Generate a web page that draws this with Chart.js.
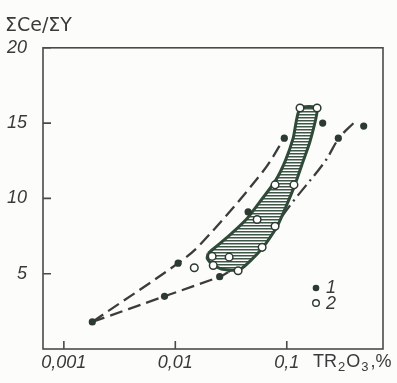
<!DOCTYPE html>
<html>
<head>
<meta charset="utf-8">
<script src="https://cdn.jsdelivr.net/npm/chart.js@4"></script>
<style>
  html, body { margin: 0; padding: 0; background: #fcfcfa; }
  canvas { display: block; }
</style>
</head>
<body>
<canvas id="chart" width="397" height="383"></canvas>
<script>
//Data
const xTicks = [0.001, 0.01, 0.1];
const yTicks = [5, 10, 15, 20];

//series 1 (filled dots)
const s1X = [0.0018, 0.008, 0.0106, 0.025, 0.045, 0.095, 0.21, 0.29, 0.49];
const s1Y = [1.8, 3.5, 5.7, 4.8, 9.1, 14.0, 15.0, 14.0, 14.8];

//series 2 (open circles)
const s2X = [0.0148, 0.0214, 0.0219, 0.0304, 0.0366, 0.0542, 0.0601, 0.0785, 0.0785, 0.116, 0.1315, 0.187];
const s2Y = [5.4, 6.15, 5.55, 6.1, 5.2, 8.6, 6.75, 10.9, 8.15, 10.9, 16.0, 16.0];

//upper dashed curve
const upX = [0.0018, 0.0106, 0.0168, 0.0613, 0.095];
const upY = [1.8, 5.7, 6.95, 11.8, 14.0];

//lower dashed curve
const lowX = [0.0018, 0.008, 0.025, 0.0298];
const lowY = [1.8, 3.5, 4.8, 5.1];

//dash-dot continuation
const ddX = [0.0298, 0.052, 0.114, 0.22, 0.294, 0.409];
const ddY = [5.1, 6.5, 9.8, 12.45, 14.0, 15.1];

//hatched band outline (closed)
const bandX = [0.0197, 0.0311, 0.0441, 0.0577, 0.0785, 0.0966, 0.1139, 0.1315, 0.187, 0.1617, 0.140, 0.1187, 0.0986, 0.0819, 0.0601, 0.0382, 0.0264, 0.0214, 0.0193, 0.0197];
const bandY = [6.35, 7.6, 8.67, 9.8, 11.13, 12.46, 13.98, 16.0, 16.0, 13.78, 12.46, 10.93, 9.47, 8.14, 6.68, 5.29, 5.29, 5.62, 6.02, 6.35];

const ink = "#2c3a31";
const green = "#2f4a38";
const textColor = "#3a3a3a";
const tickFont = { family: "Liberation Sans", style: "italic", size: 18 };

const toPoints = (xs, ys) => xs.map((x, i) => ({ x: x, y: ys[i] }));

//Hatch pattern for the band
let pc = document.createElement("canvas");
pc.width = 8;
pc.height = 3;
let pctx = pc.getContext("2d");
pctx.fillStyle = "#ffffff";
pctx.fillRect(0, 0, 8, 3);
pctx.fillStyle = "#3d5645";
pctx.fillRect(0, 0, 8, 1.5);

let canvas = document.getElementById("chart");
let context = canvas.getContext("2d");
let hatch = context.createPattern(pc, "repeat");

//Frame, inner ticks, axis unit and legend
const decor = {
  id: "decor",
  beforeDatasetsDraw(chart) {
    const ctx = chart.ctx;
    const a = chart.chartArea;
    const xs = chart.scales.x;
    const ys = chart.scales.y;
    ctx.save();
    ctx.strokeStyle = "#4a4a4a";
    ctx.lineWidth = 1.6;
    ctx.strokeRect(a.left, a.top, a.right - a.left, a.bottom - a.top);
    ctx.beginPath();
    xTicks.forEach((v) => {
      const px = xs.getPixelForValue(v);
      ctx.moveTo(px, a.bottom);
      ctx.lineTo(px, a.bottom - 8);
    });
    yTicks.forEach((v) => {
      const py = ys.getPixelForValue(v);
      ctx.moveTo(a.left, py);
      ctx.lineTo(a.left + 8, py);
    });
    ctx.stroke();
    ctx.restore();
  },
  afterDraw(chart) {
    const ctx = chart.ctx;
    const a = chart.chartArea;
    ctx.save();
    ctx.fillStyle = textColor;
    ctx.textBaseline = "middle";
    //unit label after the last tick
    let x = 313;
    const y = 362;
    ctx.font = '18px "Liberation Sans"';
    ctx.fillText("TR", x, y);
    x += ctx.measureText("TR").width + 1;
    ctx.font = '13px "Liberation Sans"';
    ctx.fillText("2", x, y + 5);
    x += ctx.measureText("2").width + 1;
    ctx.font = '18px "Liberation Sans"';
    ctx.fillText("O", x, y);
    x += ctx.measureText("O").width + 1;
    ctx.font = '13px "Liberation Sans"';
    ctx.fillText("3", x, y + 5);
    x += ctx.measureText("3").width + 1;
    ctx.font = '18px "Liberation Sans"';
    ctx.fillText(",%", x + 1, y);

    //legend
    const lx = a.right - 67;
    ctx.fillStyle = ink;
    ctx.beginPath();
    ctx.arc(lx, 288, 3.3, 0, Math.PI * 2);
    ctx.fill();
    ctx.beginPath();
    ctx.arc(lx, 303, 3.3, 0, Math.PI * 2);
    ctx.fillStyle = "#fff";
    ctx.fill();
    ctx.strokeStyle = ink;
    ctx.lineWidth = 1.4;
    ctx.stroke();
    ctx.fillStyle = textColor;
    ctx.font = 'italic 18px "Liberation Sans"';
    ctx.fillText("1", lx + 10, 288);
    ctx.fillText("2", lx + 10, 304);
    ctx.restore();
  },
};

const curveStyle = {
  borderColor: "#3c3c3c",
  borderWidth: 2.3,
  pointRadius: 0,
  order: 3,
};

let config = {
  type: "line",
  data: {
    datasets: [
      {
        label: "1",
        data: toPoints(s1X, s1Y),
        showLine: false,
        pointRadius: 3.6,
        pointBackgroundColor: ink,
        pointBorderColor: ink,
        pointBorderWidth: 0,
        order: 1,
      },
      {
        label: "2",
        data: toPoints(s2X, s2Y),
        showLine: false,
        pointRadius: 3.8,
        pointBackgroundColor: "#ffffff",
        pointBorderColor: ink,
        pointBorderWidth: 1.5,
        order: 0,
      },
      Object.assign({
        label: "upper",
        data: toPoints(upX, upY),
        borderDash: [13, 6],
        tension: 0.35,
      }, curveStyle),
      Object.assign({
        label: "lower",
        data: toPoints(lowX, lowY),
        borderDash: [13, 6],
        tension: 0.3,
      }, curveStyle),
      Object.assign({
        label: "dashdot",
        data: toPoints(ddX, ddY),
        borderDash: [14, 5, 2, 5],
        tension: 0.35,
      }, curveStyle, { order: 4 }),
      {
        label: "band",
        data: toPoints(bandX, bandY),
        borderColor: green,
        borderWidth: 3,
        backgroundColor: hatch,
        fill: "shape",
        pointRadius: 0,
        tension: 0.2,
        order: 2,
      },
    ],
  },
  options: {
    responsive: false,
    animation: false,
    layout: { padding: { left: 5, right: 14, top: 0, bottom: 0 } },
    plugins: {
      legend: { display: false },
      tooltip: { enabled: false },
      title: {
        display: true,
        text: "ΣCe/ΣY",
        align: "start",
        color: textColor,
        font: { family: "DejaVu Sans", size: 19, weight: "normal" },
        padding: { top: 15, bottom: 10 },
      },
    },
    scales: {
      x: {
        type: "logarithmic",
        min: 0.00065,
        max: 0.73,
        afterBuildTicks: (scale) => {
          scale.ticks = xTicks.map((v) => ({ value: v }));
        },
        afterFit: (scale) => {
          scale.height = 34;
        },
        grid: { display: false },
        border: { display: false },
        ticks: {
          autoSkip: false,
          maxRotation: 0,
          padding: -5,
          color: textColor,
          font: tickFont,
          callback: (v) => String(v).replace(".", ","),
        },
      },
      y: {
        type: "linear",
        min: 0,
        max: 20,
        afterBuildTicks: (scale) => {
          scale.ticks = yTicks.map((v) => ({ value: v }));
        },
        afterFit: (scale) => {
          scale.width = 38;
        },
        grid: { display: false },
        border: { display: false },
        ticks: {
          padding: 8,
          color: textColor,
          font: tickFont,
        },
      },
    },
  },
  plugins: [decor],
};

let chart = new Chart(context, config);
</script>
</body>
</html>
